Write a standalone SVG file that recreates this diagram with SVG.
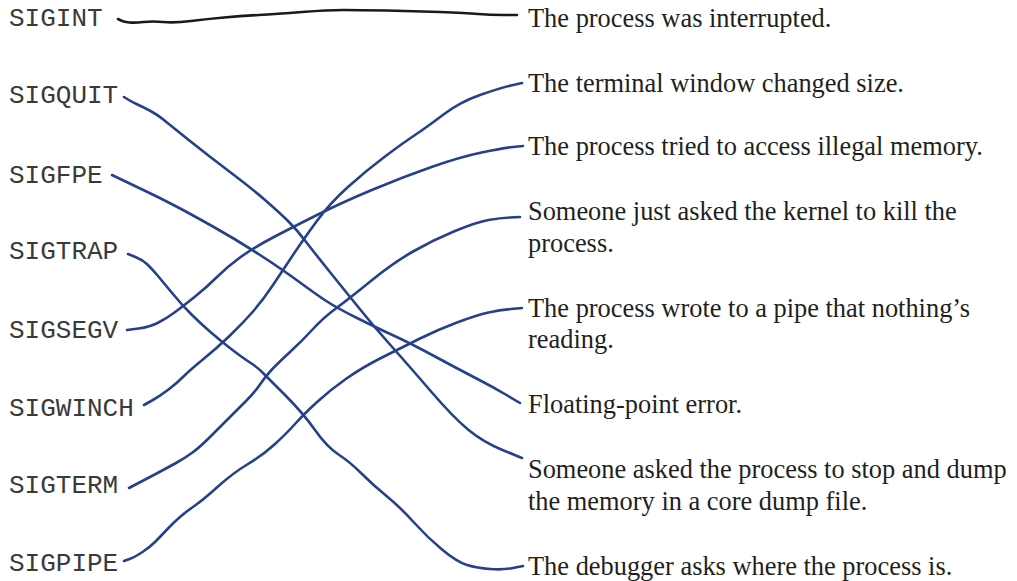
<svg xmlns="http://www.w3.org/2000/svg" width="1017" height="581" viewBox="0 0 1017 581">
<style>
.sig{font-family:"Liberation Mono","Courier New",monospace;font-size:26px;fill:#3a3a3a;}
.desc{font-family:"Liberation Serif","Times New Roman",serif;font-size:26.4px;fill:#231f20;}
.wire{fill:none;stroke:#27408b;stroke-width:2.6;stroke-linecap:round;stroke-linejoin:round;}
.wire.black{stroke:#1a1a1a;}
</style>
<rect width="1017" height="581" fill="#ffffff"/>
<g id="connectors">
<path id="c-sigint" class="wire black" d="M118,19 L121,20.5 Q124,22 129.5,22.5 Q135,23 143.5,22 Q152,21 163.5,22 Q175,23 191,21 Q207,19 224,17.5 Q241,16 258.5,15 Q276,14 302,12 Q328,10 343.5,10 Q359,10 386.5,10.5 Q414,11 440,12 Q466,13 478,14 Q490,15 503.5,15 L517,15"/>
<path id="c-sigquit" class="wire" d="M124,97 L128,99.5 Q132,102 137.5,104.5 Q143,107 150.5,111 Q158,115 164,120 Q170,125 190,141 Q210,157 230,172 Q250,187 265,200 Q280,213 288.5,221.5 Q297,230 305,240.5 Q313,251 331.5,274 Q350,297 363.5,313.5 Q377,330 393.5,348.5 Q410,367 431.5,392 Q453,417 468,429.5 Q483,442 502.5,450 L522,458"/>
<path id="c-sigfpe" class="wire" d="M112,175 L124.5,181 Q137,187 148.5,192.5 Q160,198 173.5,205 Q187,212 212,226 Q237,240 260,255 Q283,270 300,282.5 Q317,295 327,301.5 Q337,308 357,318 Q377,328 393.5,335.5 Q410,343 435,356.5 Q460,370 476.5,378.5 Q493,387 506.5,395 L520,403"/>
<path id="c-sigtrap" class="wire" d="M128,254 L135.5,257 Q143,260 148,265 Q153,270 158,276 Q163,282 172.5,293.5 Q182,305 191,314 Q200,323 211,332.5 Q222,342 232.5,350 Q243,358 250,362.5 Q257,367 262,372 Q267,377 285,395 Q303,413 315,430 Q327,447 338.5,454.5 Q350,462 361.5,473.5 Q373,485 386.5,496 Q400,507 413.5,522 Q427,537 442,549.5 Q457,562 467,565 Q477,568 490,569 Q503,570 513,568 L523,566"/>
<path id="c-sigsegv" class="wire" d="M127,330 L138.5,328.5 Q150,327 158.5,322.5 Q167,318 174.5,312.5 Q182,307 194.5,297 Q207,287 217,277 Q227,267 240,257.5 Q253,248 273,237.5 Q293,227 318,214.5 Q343,202 373,189.5 Q403,177 431.5,167 Q460,157 481.5,152.5 Q503,148 513,147 L523,146"/>
<path id="c-sigwinch" class="wire" d="M144,405 L152,400.5 Q160,396 168.5,389.5 Q177,383 183.5,376.5 Q190,370 203.5,359 Q217,348 230,335.5 Q243,323 253,311.5 Q263,300 273,285 Q283,270 293,255 Q303,240 316.5,221.5 Q330,203 348.5,186.5 Q367,170 385,156.5 Q403,143 415,135 Q427,127 443.5,114.5 Q460,102 480,95 Q500,88 511,85.5 L522,83"/>
<path id="c-sigterm" class="wire" d="M129,488 L139.5,482.5 Q150,477 158.5,472.5 Q167,468 176,463 Q185,458 192.5,452.5 Q200,447 210,437 Q220,427 228.5,418.5 Q237,410 246,401 Q255,392 260,384.5 Q265,377 271,370.5 Q277,364 290,352 Q303,340 313,329 Q323,318 336.5,308 Q350,298 371.5,280.5 Q393,263 413,251.5 Q433,240 455,231 Q477,222 488.5,220 Q500,218 510,217.5 L520,217"/>
<path id="c-sigpipe" class="wire" d="M124,561 L129.5,559 Q135,557 142.5,552 Q150,547 155,542 Q160,537 166.5,530 Q173,523 180,517 Q187,511 195,505.5 Q203,500 218,486.5 Q233,473 248,464 Q263,455 275,444 Q287,433 295,424 Q303,415 316.5,402.5 Q330,390 346.5,378.5 Q363,367 383,357 Q403,347 420,338.5 Q437,330 457,322.5 Q477,315 488.5,312.5 Q500,310 511,309 L522,308"/>
</g>
<g id="SIGINT"><text class="sig" x="9" y="26">SIGINT</text></g>
<g id="SIGQUIT"><text class="sig" x="9" y="103">SIGQUIT</text></g>
<g id="SIGFPE"><text class="sig" x="9" y="183">SIGFPE</text></g>
<g id="SIGTRAP"><text class="sig" x="9" y="259">SIGTRAP</text></g>
<g id="SIGSEGV"><text class="sig" x="9" y="338">SIGSEGV</text></g>
<g id="SIGWINCH"><text class="sig" x="9" y="416">SIGWINCH</text></g>
<g id="SIGTERM"><text class="sig" x="9" y="493">SIGTERM</text></g>
<g id="SIGPIPE"><text class="sig" x="9" y="571">SIGPIPE</text></g>
<g id="d-interrupted"><text class="desc" x="528" y="27">The process was interrupted.</text></g>
<g id="d-winsize"><text class="desc" x="528" y="92">The terminal window changed size.</text></g>
<g id="d-memory"><text class="desc" x="528" y="155">The process tried to access illegal memory.</text></g>
<g id="d-kill"><text class="desc" x="528" y="220">Someone just asked the kernel to kill the</text><text class="desc" x="528" y="252">process.</text></g>
<g id="d-pipe"><text class="desc" x="528" y="317">The process wrote to a pipe that nothing’s</text><text class="desc" x="528" y="348">reading.</text></g>
<g id="d-fpe"><text class="desc" x="528" y="413">Floating-point error.</text></g>
<g id="d-core"><text class="desc" x="528" y="478">Someone asked the process to stop and dump</text><text class="desc" x="528" y="510">the memory in a core dump file.</text></g>
<g id="d-debugger"><text class="desc" x="528" y="575">The debugger asks where the process is.</text></g>
</svg>
